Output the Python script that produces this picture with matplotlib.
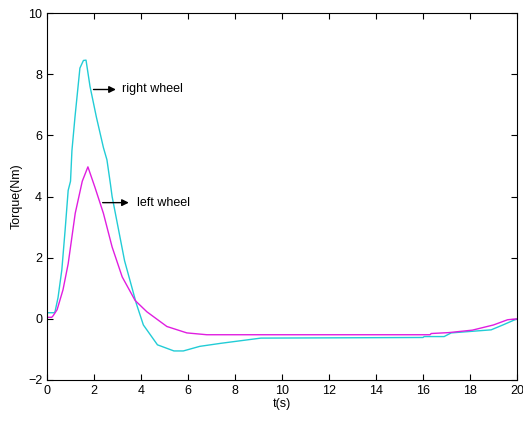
import matplotlib
matplotlib.use("Agg")
import matplotlib.pyplot as plt

# right wheel (cyan)
t_right = [0, 0.3, 0.34, 0.47, 0.63, 0.77, 0.9, 1.0, 1.06, 1.19, 1.4, 1.55, 1.66, 1.83, 2.1,
           2.4, 2.55, 2.7, 2.77, 3.3, 3.8, 4.1, 4.7, 5.4, 5.8, 6.5, 7.4, 9.1, 16.0, 16.05,
           16.9, 17.2, 18.9, 19.4, 20]
torque_right = [0.2, 0.2, 0.23, 0.7, 1.6, 2.9, 4.2, 4.5, 5.5, 6.6, 8.2, 8.45, 8.46, 7.6, 6.6,
                5.6, 5.2, 4.4, 4.0, 1.9, 0.5, -0.2, -0.85, -1.05, -1.05, -0.9, -0.8, -0.63, -0.61, -0.58,
                -0.58, -0.46, -0.36, -0.2, 0.0]

# left wheel (magenta)
t_left = [0, 0.2, 0.26, 0.43, 0.68, 0.9, 1.2, 1.5, 1.74, 2.04, 2.4, 2.77, 3.2, 3.75, 4.25,
          5.1, 5.95, 6.8, 16.3, 16.35, 17.1, 18.1, 19.0, 19.6, 20]
torque_left = [0.05, 0.05, 0.1, 0.3, 0.95, 1.8, 3.45, 4.5, 4.97, 4.3, 3.45, 2.35, 1.37, 0.6, 0.23,
               -0.25, -0.46, -0.52, -0.52, -0.48, -0.45, -0.37, -0.2, -0.03, 0.0]

x_ticks = list(range(0, 21, 2))
y_ticks = list(range(-2, 11, 2))

plt.rcParams['font.family'] = ['Liberation Sans', 'DejaVu Sans']

fig = plt.figure(figsize=(5.23, 4.21), dpi=100)
ax = fig.add_axes([0.0899, 0.0974, 0.8986, 0.8716])

ax.plot(t_right, torque_right, color='#22ccd6', lw=1.0)
ax.plot(t_left, torque_left, color='#e01ee0', lw=1.0)

ax.annotate('', xy=(3.05, 7.5), xytext=(1.86, 7.5),
            arrowprops=dict(arrowstyle='-|>', color='black', lw=1.0, mutation_scale=10))
ax.text(3.2, 7.52, 'right wheel', fontsize=9, va='center')
ax.annotate('', xy=(3.6, 3.8), xytext=(2.25, 3.8),
            arrowprops=dict(arrowstyle='-|>', color='black', lw=1.0, mutation_scale=10))
ax.text(3.85, 3.8, 'left wheel', fontsize=9, va='center')

ax.set_xlim(0, 20)
ax.set_ylim(-2, 10)
ax.set_xticks(x_ticks)
ax.set_yticks(y_ticks)
ax.tick_params(direction='in', top=True, right=True, labelsize=9, length=4)
ax.set_xlabel('t(s)', fontsize=9, labelpad=1)
ax.set_ylabel('Torque(Nm)', fontsize=9, labelpad=4)

fig.savefig('out.png', dpi=100)
